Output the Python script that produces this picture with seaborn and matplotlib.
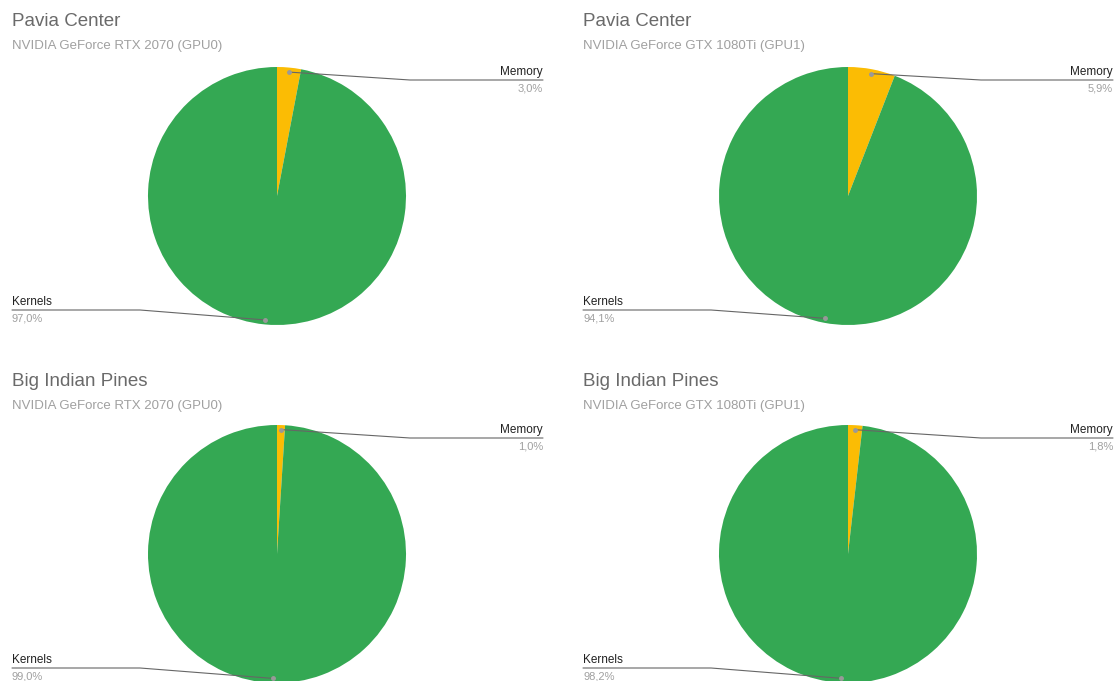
import numpy as np
import matplotlib
matplotlib.use("Agg")
import matplotlib.pyplot as plt
import seaborn as sns
from matplotlib.lines import Line2D

sns.set_theme(style="white")
plt.rcParams['font.family'] = ['Liberation Sans', 'DejaVu Sans']

# ---- data ----
titles = ["Pavia Center", "Pavia Center", "Big Indian Pines", "Big Indian Pines"]
subtitles = ["NVIDIA GeForce RTX 2070 (GPU0)", "NVIDIA GeForce GTX 1080Ti (GPU1)",
             "NVIDIA GeForce RTX 2070 (GPU0)", "NVIDIA GeForce GTX 1080Ti (GPU1)"]
categories = ["Memory", "Kernels"]
memory_pct = [3.0, 5.9, 1.0, 1.8]
kernels_pct = [97.0, 94.1, 99.0, 98.2]

colors = ["#fbbc04", "#34a853"]

W, H = 1118, 681
fig = plt.figure(figsize=(W / 100, H / 100), dpi=100)

def fx(x):
    return x / W

def fy(y):
    return 1 - y / H

# panel layout in pixels: (left text x, right edge x, pie center x, pie center y, title y)
panels = [(12, 543, 277, 196, 20), (583, 1113, 848, 196, 20),
          (12, 543, 277, 554, 380), (583, 1113, 848, 554, 380)]
R = 129

def fmt(v):
    return f"{v:.1f}%".replace(".", ",")

for i, (lx, rx, cx, cy, ty) in enumerate(panels):
    ax = fig.add_axes([fx(cx - R), fy(cy + R), 2 * R / W, 2 * R / H])
    vals = [memory_pct[i], kernels_pct[i]]
    wedges, _ = ax.pie(vals, colors=colors, startangle=90, counterclock=False,
                       wedgeprops=dict(linewidth=0))
    ax.set_xlim(-1, 1)
    ax.set_ylim(-1, 1)
    ax.axis("off")

    fig.text(fx(lx), fy(ty + 1), titles[i], fontsize=13.5, color="#6a6a6a", va="center", ha="left")
    fig.text(fx(lx), fy(ty + 26), subtitles[i], fontsize=9.5, color="#a0a0a0", va="center", ha="left")

    # leader dots at slice mid-angle
    start = 0.0
    dots = []
    for v in vals:
        mid = (start + v / 2) / 100 * 2 * np.pi
        start += v
        px, py = 0.965 * np.sin(mid), 0.965 * np.cos(mid)
        dx, dy = ax.transData.transform((px, py))
        dots.append((dx, H - dy))

    # Memory label (right side)
    ly = cy - 116
    mx, my = dots[0]
    fig.add_artist(Line2D([fx(mx), fx(cx + 133), fx(rx)], [fy(my), fy(ly), fy(ly)],
                          color="#666666", lw=0.8))
    fig.add_artist(Line2D([fx(mx)], [fy(my)], marker="o", ms=2.5, color="#999999", lw=0))
    fig.text(fx(rx), fy(ly - 8), categories[0], fontsize=8.5, color="#222222", ha="right", va="center")
    fig.text(fx(rx), fy(ly + 8.5), fmt(memory_pct[i]), fontsize=8, color="#a0a0a0", ha="right", va="center")

    # Kernels label (left side)
    ky = cy + 114
    kx, kyy = dots[1]
    fig.add_artist(Line2D([fx(lx), fx(cx - 137), fx(kx)], [fy(ky), fy(ky), fy(kyy)],
                          color="#666666", lw=0.8))
    fig.add_artist(Line2D([fx(kx)], [fy(kyy)], marker="o", ms=2.5, color="#999999", lw=0))
    fig.text(fx(lx), fy(ky - 8), categories[1], fontsize=8.5, color="#222222", ha="left", va="center")
    fig.text(fx(lx), fy(ky + 8.5), fmt(kernels_pct[i]), fontsize=8, color="#a0a0a0", ha="left", va="center")

fig.savefig("out.png", dpi=100, facecolor="white")
